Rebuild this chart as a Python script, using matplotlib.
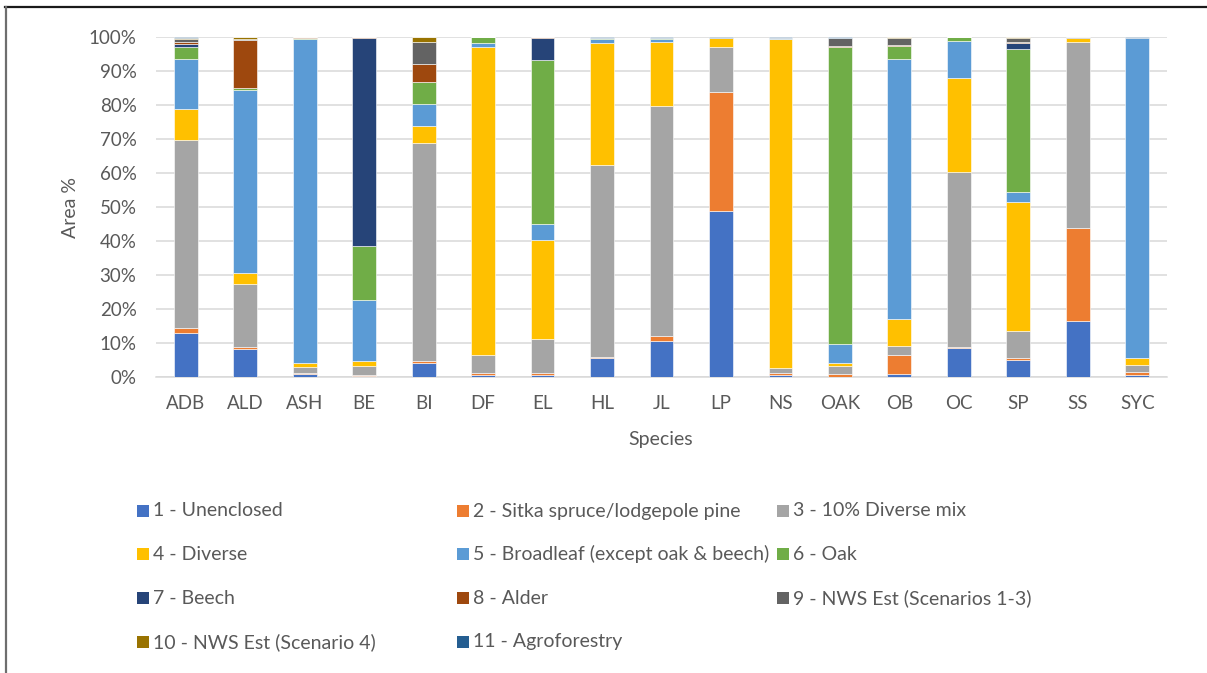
import numpy as np
import matplotlib
matplotlib.use("Agg")
import matplotlib.pyplot as plt
from matplotlib.patches import Rectangle
from matplotlib.lines import Line2D
from matplotlib.ticker import PercentFormatter

plt.rcParams['font.family'] = ['Lato', 'DejaVu Sans']

species = ["ADB", "ALD", "ASH", "BE", "BI", "DF", "EL", "HL", "JL",
           "LP", "NS", "OAK", "OB", "OC", "SP", "SS", "SYC"]

series_names = [
    "1 - Unenclosed", "2 - Sitka spruce/lodgepole pine", "3 - 10% Diverse mix",
    "4 - Diverse", "5 - Broadleaf (except oak & beech)", "6 - Oak",
    "7 - Beech", "8 - Alder", "9 - NWS Est (Scenarios 1-3)",
    "10 - NWS Est (Scenario 4)", "11 - Agroforestry",
]

# Area (%) by species for each planting scenario
unenclosed   = [13.0, 8.3, 0.8, 0.4, 4.2, 0.6, 0.6, 5.5, 10.5, 48.9, 0.5, 0.1, 0.8, 8.4, 4.9, 16.5, 0.7]
sitka_lodge  = [1.4, 0.6, 0.4, 0.3, 0.6, 0.7, 0.6, 0.5, 1.5, 34.9, 0.8, 0.8, 5.5, 0.5, 0.7, 27.5, 0.7]
diverse_mix  = [55.2, 18.5, 1.7, 2.5, 64.1, 5.1, 9.9, 56.5, 68.0, 13.4, 1.4, 2.4, 2.9, 51.4, 8.0, 54.6, 2.0]
diverse      = [9.3, 3.0, 1.2, 1.4, 4.9, 90.8, 29.1, 35.8, 18.7, 2.6, 96.7, 0.8, 7.9, 27.6, 37.6, 1.2, 2.3]
broadleaf    = [14.5, 53.8, 95.3, 18.2, 6.4, 1.2, 4.9, 1.3, 1.1, 0.0, 0.3, 5.6, 75.9, 10.8, 3.1, 0.0, 94.1]
oak          = [3.6, 0.6, 0.4, 15.8, 6.7, 1.7, 48.1, 0.2, 0.2, 0.0, 0.0, 87.0, 3.8, 1.2, 41.9, 0.0, 0.0]
beech        = [0.8, 0.0, 0.0, 61.3, 0.0, 0.0, 6.6, 0.0, 0.0, 0.0, 0.0, 0.0, 0.0, 0.0, 1.7, 0.0, 0.0]
alder        = [0.8, 14.1, 0.2, 0.2, 5.3, 0.0, 0.2, 0.2, 0.1, 0.0, 0.0, 0.5, 0.3, 0.0, 0.3, 0.0, 0.0]
nws_1_3      = [0.7, 0.3, 0.0, 0.0, 6.2, 0.0, 0.0, 0.0, 0.0, 0.0, 0.0, 2.3, 2.1, 0.0, 1.2, 0.2, 0.0]
nws_4        = [0.4, 0.5, 0.0, 0.0, 1.6, 0.0, 0.0, 0.0, 0.0, 0.0, 0.0, 0.0, 0.3, 0.0, 0.3, 0.1, 0.0]
agroforestry = [0.3, 0.1, 0.0, 0.0, 0.0, 0.0, 0.0, 0.2, 0.2, 0.2, 0.3, 0.2, 0.0, 0.0, 0.0, 0.0, 0.3]

colors = ["#4472C4", "#ED7D31", "#A5A5A5", "#FFC000", "#5B9BD5", "#70AD47",
          "#264478", "#9E480E", "#636363", "#997300", "#255E91"]

TEXT = "#595959"
GRID = "#D9D9D9"

W, H = 1207, 673
fig = plt.figure(figsize=(W / 100, H / 100), dpi=100)


def fx(px):
    return px / W


def fy(py):
    return 1 - py / H


ax = fig.add_axes([fx(156), fy(377), fx(1167 - 156), (377 - 37) / H])

values = np.array([unenclosed, sitka_lodge, diverse_mix, diverse, broadleaf, oak,
                   beech, alder, nws_1_3, nws_4, agroforestry])
shares = values / values.sum(axis=0) * 100

x = np.arange(len(species))
bottom = np.zeros(len(species))
for row, color in zip(shares, colors):
    ax.bar(x, row, 0.4, bottom=bottom, color=color,
           edgecolor="white", linewidth=0.4, zorder=3)
    bottom += row

ax.set_xlim(-0.5, len(species) - 0.5)
ax.set_ylim(0, 100)
ax.set_yticks(np.arange(0, 101, 10))
ax.yaxis.set_major_formatter(PercentFormatter(decimals=0))
ax.set_xticks(x)
ax.set_xticklabels(species)
ax.grid(axis="y", color=GRID, linewidth=1.1)
ax.set_axisbelow(True)
for side in ("top", "right", "left"):
    ax.spines[side].set_visible(False)
ax.spines["bottom"].set_color(GRID)
ax.spines["bottom"].set_linewidth(1.1)
ax.tick_params(axis="both", length=0, labelsize=13.5, labelcolor=TEXT)
ax.tick_params(axis="y", pad=14)
ax.tick_params(axis="x", pad=13)

fig.text(fx(661), fy(440), "Species", ha="center", va="center",
         fontsize=14, color=TEXT)
fig.text(fx(70), fy(207), "Area %", ha="center", va="center",
         rotation=90, fontsize=14, color=TEXT)

# Legend laid out row by row in three columns
col_x = [137, 457, 777]
row_y = [511, 554, 598, 642]
for i, (name, color) in enumerate(zip(series_names, colors)):
    cx = col_x[i % 3]
    cy = row_y[i // 3]
    fig.add_artist(Rectangle((fx(cx), fy(cy + 6)), 12 / W, 12 / H,
                             transform=fig.transFigure, facecolor=color,
                             edgecolor="none"))
    fig.text(fx(cx + 16), fy(cy), name, ha="left", va="center",
             fontsize=14, color=TEXT)

# Chart frame
fig.add_artist(Line2D([fx(5), fx(W)], [fy(7), fy(7)], transform=fig.transFigure,
                      color="#1a1a1a", linewidth=1.6))
fig.add_artist(Line2D([fx(5.5), fx(5.5)], [fy(7), fy(H)], transform=fig.transFigure,
                      color="#6e6e6e", linewidth=1.6))

fig.savefig("out.png", dpi=100, facecolor="white")
